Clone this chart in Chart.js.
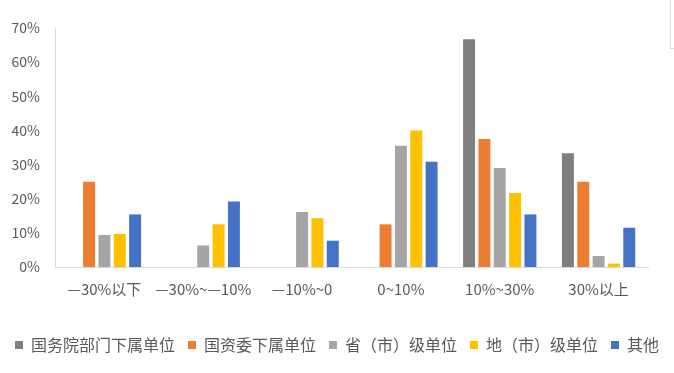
<!DOCTYPE html>
<html>
<head>
<meta charset="utf-8">
<script src="https://cdn.jsdelivr.net/npm/chart.js@4"></script>
<style>
    html, body { margin: 0; padding: 0; background: #ffffff; }
    #wrap { position: relative; width: 674px; height: 373px; }
    #edge { position: absolute; left: 670px; top: 0; width: 6px; height: 48px;
            border-left: 1px solid #d9d9d9; border-bottom: 1px solid #d9d9d9; }
</style>
</head>
<body>
<div id="wrap">
    <canvas id="chart" width="674" height="373"></canvas>
    <div id="edge"></div>
</div>
<script>
// data (percent)
const categories = ['—30%以下', '—30%~—10%', '—10%~0', '0~10%', '10%~30%', '30%以上'];
const seriesNames = ['国务院部门下属单位', '国资委下属单位', '省（市）级单位', '地（市）级单位', '其他'];
const guowuyuan = [0, 0, 0, 0, 66.7, 33.3];
const guoziwei = [25, 0, 0, 12.5, 37.5, 25];
const shengji = [9.4, 6.3, 16.1, 35.5, 29, 3.2];
const diji = [9.7, 12.5, 14.3, 40, 21.7, 1];
const qita = [15.4, 19.2, 7.7, 30.8, 15.4, 11.5];
const yTicks = [0, 10, 20, 30, 40, 50, 60, 70];

const colors = ['#7f7f7f', '#ed7d31', '#a5a5a5', '#ffc000', '#4472c4'];
const values = [guowuyuan, guoziwei, shengji, diji, qita];

const FONT = '"Noto Sans CJK SC", "Noto Sans", sans-serif';
const TEXT = '#595959';

const ctx = document.getElementById('chart').getContext('2d');

new Chart(ctx, {
    type: 'bar',
    data: {
        labels: categories,
        datasets: seriesNames.map((name, i) => ({
            label: name,
            data: values[i],
            backgroundColor: colors[i],
            borderWidth: 0,
            categoryPercentage: 0.776,
            barPercentage: 0.78
        }))
    },
    options: {
        responsive: false,
        animation: false,
        layout: { padding: { top: 28, right: 0, bottom: 10, left: 0 } },
        plugins: {
            legend: {
                position: 'bottom',
                labels: {
                    boxWidth: 8,
                    boxHeight: 8,
                    padding: 13,
                    color: TEXT,
                    font: { family: FONT, size: 16 }
                }
            },
            tooltip: { enabled: false }
        },
        scales: {
            x: {
                afterFit: s => { s.height += 21; },
                grid: { display: false },
                border: { display: true, color: '#d9d9d9', width: 1 },
                ticks: {
                    color: TEXT,
                    padding: 5,
                    maxRotation: 0,
                    autoSkip: false,
                    font: { family: FONT, size: 15 }
                }
            },
            y: {
                min: 0,
                max: 70,
                afterFit: s => { s.width = 55; },
                afterBuildTicks: s => { s.ticks = yTicks.map(v => ({ value: v })); },
                grid: { display: false, drawTicks: false },
                border: { display: true, color: '#d9d9d9', width: 1 },
                ticks: {
                    color: TEXT,
                    padding: 15,
                    font: { family: FONT, size: 14 },
                    callback: v => v + '%'
                }
            },
            // empty right margin
            yRight: {
                position: 'right',
                min: 0,
                max: 70,
                afterFit: s => { s.width = 26; },
                grid: { display: false, drawTicks: false },
                border: { display: false },
                ticks: { display: false }
            }
        }
    }
});
</script>
</body>
</html>
